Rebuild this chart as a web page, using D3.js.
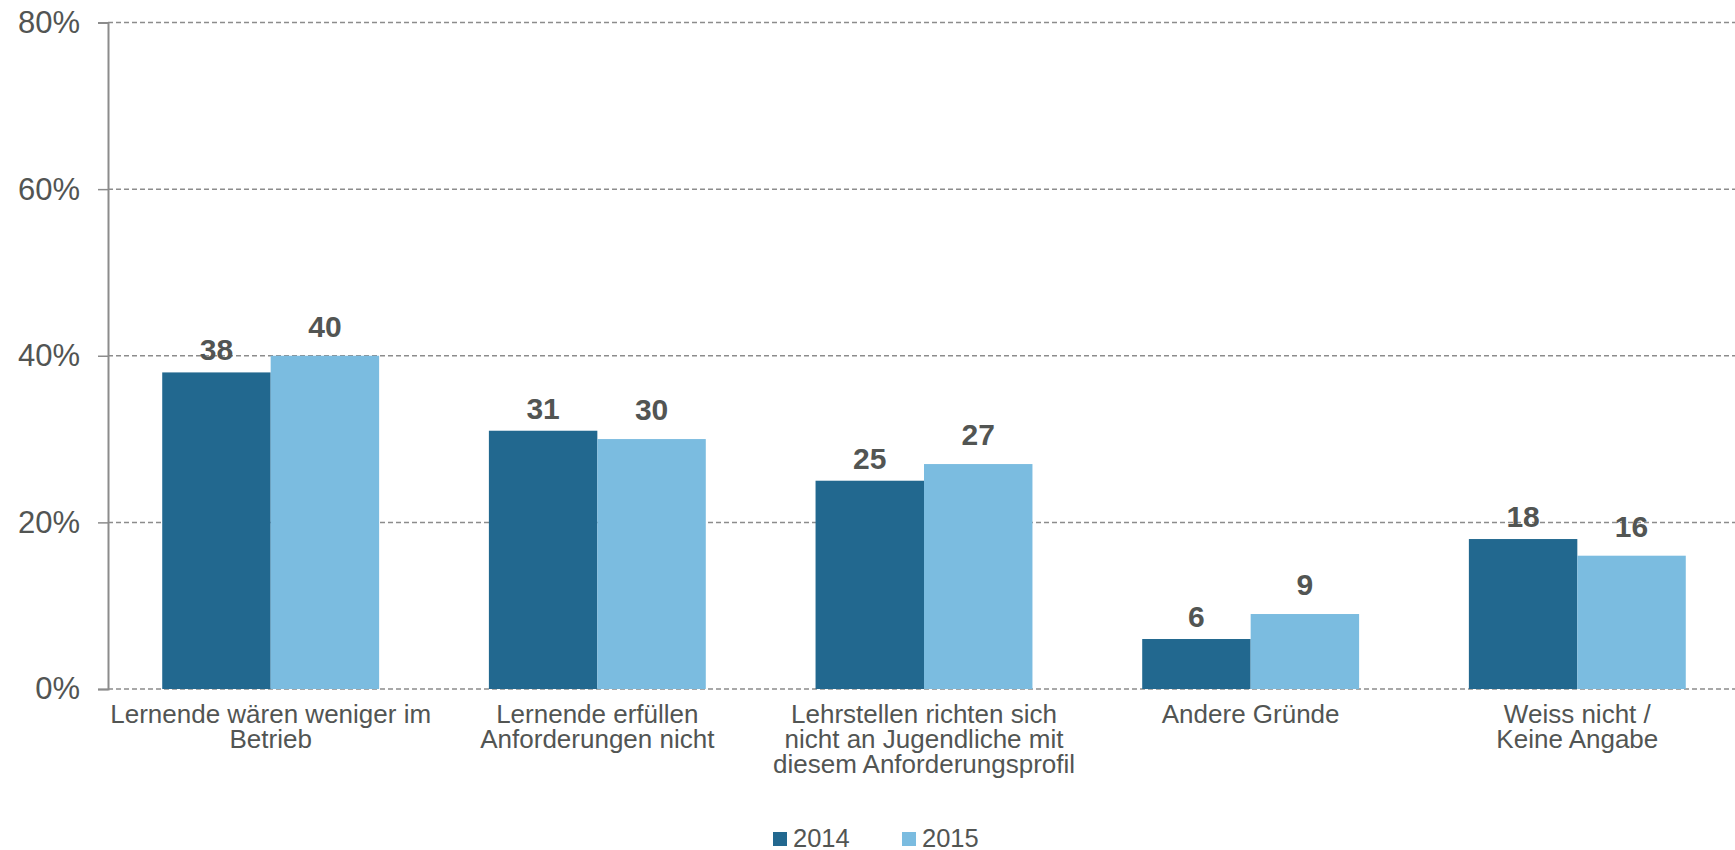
<!DOCTYPE html>
<html>
<head>
<meta charset="utf-8">
<script src="https://cdn.jsdelivr.net/npm/d3@7"></script>
<style>
  body { margin: 0; background: #fff; }
  text { font-family: "Liberation Sans", Arial, sans-serif; fill: #525553; }
</style>
</head>
<body>
<script>
let categories = [
  "Lernende wären weniger im\nBetrieb",
  "Lernende erfüllen\nAnforderungen nicht",
  "Lehrstellen richten sich\nnicht an Jugendliche mit\ndiesem Anforderungsprofil",
  "Andere Gründe",
  "Weiss nicht /\nKeine Angabe"
];
let series = ["2014", "2015"];
let values2014 = [38, 31, 25, 6, 18];
let values2015 = [40, 30, 27, 9, 16];
let yTicks = [0, 20, 40, 60, 80];

let width = 1735;
let height = 850;
let colors = {"2014": "#22688f", "2015": "#7bbce0"};
let labelOffset = {"2014": 12, "2015": 19};

let plotLeft = 108, plotRight = 1735, plotTop = 22.5, plotBottom = 689;

let x = d3.scaleBand().domain(categories).range([plotLeft, 1740]).paddingInner(0.336).paddingOuter(0.166);
let xs = d3.scaleBand().domain(series).range([0, x.bandwidth()]);
let y = d3.scaleLinear().domain([0, 80]).range([plotBottom, plotTop]);

let svg = d3.select("body").append("svg").attr("width", width).attr("height", height);

// gridlines
svg.selectAll("line.grid").data(yTicks).enter().append("line")
  .attr("class", "grid")
  .attr("x1", plotLeft).attr("x2", plotRight)
  .attr("y1", (d) => {return y(d);}).attr("y2", (d) => {return y(d);})
  .attr("stroke", "#8c8c8c").attr("stroke-width", 1.5)
  .attr("stroke-dasharray", "5,3");

// y axis
let yAxis = d3.axisLeft(y).tickValues(yTicks).tickSize(10).tickPadding(18)
  .tickFormat((d) => {return d + "%";});
let ya = svg.append("g").attr("transform", "translate(" + plotLeft + ",0)").call(yAxis);
ya.select(".domain").attr("stroke", "#8c8c8c").attr("stroke-width", 2);
ya.selectAll(".tick line").attr("stroke", "#8c8c8c").attr("stroke-width", 1.5);
ya.selectAll(".tick text").attr("font-size", 31).attr("fill", "#525553")
  .attr("font-family", "'Liberation Sans', Arial, sans-serif");

// bars
let rows = [];
categories.forEach((c, i) => {
  rows.push({cat: c, s: "2014", v: values2014[i]});
  rows.push({cat: c, s: "2015", v: values2015[i]});
});

svg.selectAll("rect.bar").data(rows).enter().append("rect")
  .attr("class", "bar")
  .attr("x", (d) => {return x(d.cat) + xs(d.s);})
  .attr("y", (d) => {return y(d.v);})
  .attr("width", xs.bandwidth())
  .attr("height", (d) => {return y(0) - y(d.v);})
  .attr("fill", (d) => {return colors[d.s];});

svg.selectAll("text.val").data(rows).enter().append("text")
  .attr("class", "val")
  .attr("x", (d) => {return x(d.cat) + xs(d.s) + xs.bandwidth() / 2;})
  .attr("y", (d) => {return y(d.v) - labelOffset[d.s];})
  .attr("text-anchor", "middle")
  .attr("font-size", 30).attr("font-weight", "bold")
  .text((d) => {return d.v;});

// category labels
let cl = svg.selectAll("text.cat").data(categories).enter().append("text")
  .attr("class", "cat")
  .attr("text-anchor", "middle")
  .attr("font-size", 26);
cl.each(function(d) {
  let t = d3.select(this);
  d.split("\n").forEach((line, i) => {
    t.append("tspan").attr("x", x(d) + x.bandwidth() / 2).attr("y", 723 + i * 25).text(line);
  });
});

// legend
let lg = svg.selectAll("g.leg").data(series).enter().append("g")
  .attr("class", "leg")
  .attr("transform", (d, i) => {return "translate(" + (773 + i * 129) + ",832)";});
lg.append("rect").attr("width", 14).attr("height", 14).attr("fill", (d) => {return colors[d];});
lg.append("text").attr("x", 20).attr("y", 14.5).attr("font-size", 25.5).text((d) => {return d;});
</script>
</body>
</html>
